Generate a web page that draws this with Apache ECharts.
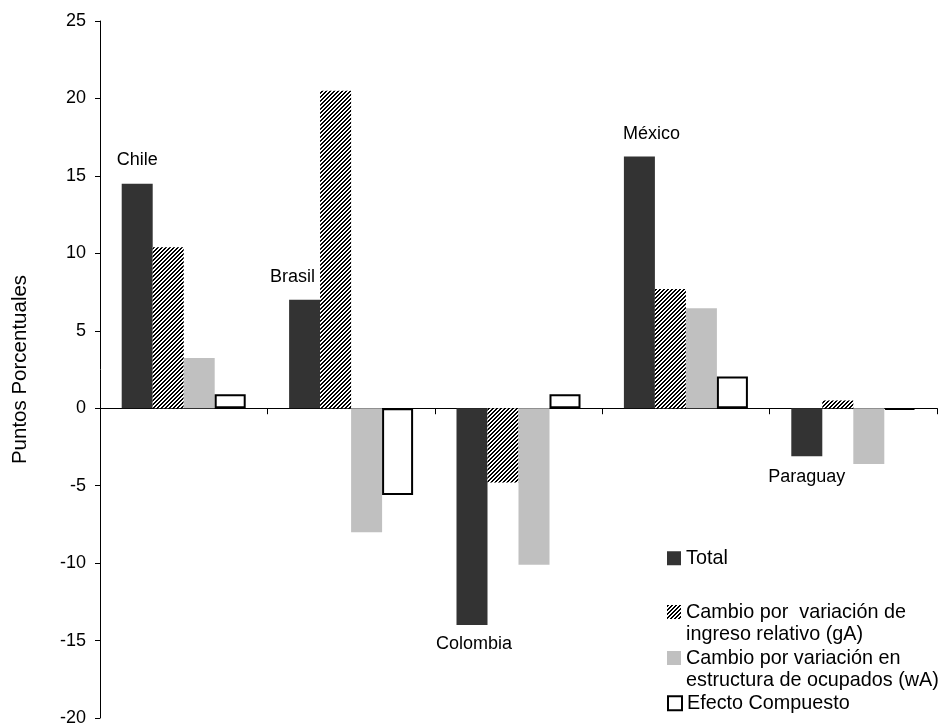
<!DOCTYPE html>
<html><head><meta charset="utf-8">
<script src="https://cdn.jsdelivr.net/npm/echarts@6/dist/echarts.min.js"></script>
<style>html,body{margin:0;padding:0;background:#fff}#c{width:950px;height:727px}</style>
</head><body><div id="c"></div>
<script>
// ---- data ----
const categories = ['Chile', 'Brasil', 'Colombia', 'México', 'Paraguay'];
const seriesNames = [
  'Total',
  'Cambio por  variación de\ningreso relativo (gA)',
  'Cambio por variación en\nestructura de ocupados (wA)',
  'Efecto Compuesto'
];
const totalValues      = [14.5, 7.0, -14.0, 16.25, -3.1];
const gAValues         = [10.4, 20.5, -4.8, 7.7, 0.5];
const wAValues         = [3.25, -8.0, -10.1, 6.45, -3.6];
const compuestoValues  = [0.9, -5.6, 0.9, 2.05, -0.1];
const yMin = -20, yMax = 25, yInterval = 5;

// ---- styles ----
const FONT = 'Liberation Sans, Arial, sans-serif';
function makeHatch() {
  const c = document.createElement('canvas');
  c.width = 4; c.height = 4;
  const g = c.getContext('2d');
  g.fillStyle = '#fff'; g.fillRect(0, 0, 4, 4);
  g.fillStyle = '#000';
  for (let x = 0; x < 4; x++) for (let y = 0; y < 4; y++) {
    if (((x + y) % 4) < 2) g.fillRect(x, y, 1, 1);
  }
  return c;
}
const hatch = { image: makeHatch(), repeat: 'repeat' };

// label placement for the country names (attached to the Total bars)
const labelPlacement = [
  { position: 'top', distance: 15, offset: [0, 0] },
  { position: 'top', distance: 14, offset: [-12, 0] },
  { position: 'bottom', distance: 10, offset: [2, 0] },
  { position: 'top', distance: 13, offset: [12, 0] },
  { position: 'bottom', distance: 12, offset: [0, 0] }
];

const totalData = totalValues.map((v, i) => ({
  value: v,
  label: Object.assign({ show: true, formatter: categories[i] }, labelPlacement[i])
}));

const BW = 31;
const tallIcon = 'path://M0,0L0,0M0,4L14,4L14,18L0,18ZM14,45L14,45';
const legendText = { fontSize: 19.8, lineHeight: 22.5, fontFamily: FONT, color: '#000' };

const chart = echarts.init(document.getElementById('c'), null, { renderer: 'canvas' });
chart.setOption({
  animation: false,
  backgroundColor: '#fff',
  textStyle: { fontFamily: FONT, color: '#000' },
  grid: { left: 100, right: 13, top: 21, bottom: 7, containLabel: false },
  legend: [
    {
      data: [seriesNames[0]], orient: 'vertical', left: 667, top: 547, padding: 0,
      itemWidth: 14, itemHeight: 14, selectedMode: false, icon: 'rect',
      textStyle: legendText
    },
    {
      data: [
        { name: seriesNames[1], icon: tallIcon },
        { name: seriesNames[2], icon: tallIcon }
      ],
      orient: 'vertical', left: 667, top: 601, itemGap: 1, padding: 0,
      itemWidth: 14, itemHeight: 45, selectedMode: false,
      textStyle: legendText
    },
    {
      data: [seriesNames[3]], orient: 'vertical', left: 667, top: 692, padding: 0,
      itemWidth: 14, itemHeight: 14, selectedMode: false, icon: 'rect',
      textStyle: legendText
    }
  ],
  xAxis: {
    type: 'category', data: categories,
    axisLine: { onZero: true, lineStyle: { color: '#000', width: 1 } },
    axisTick: { show: true, interval: 0, length: 6, lineStyle: { color: '#000' } },
    axisLabel: { show: false },
    splitLine: { show: false }
  },
  yAxis: {
    type: 'value', min: yMin, max: yMax, interval: yInterval,
    name: 'Puntos Porcentuales', nameLocation: 'middle', nameGap: 69, nameRotate: 90,
    nameTextStyle: { fontSize: 20.5, fontFamily: FONT, color: '#000' },
    axisLine: { show: true, lineStyle: { color: '#000', width: 1 } },
    axisTick: { show: true, length: 5, lineStyle: { color: '#000' } },
    axisLabel: { fontSize: 18, fontFamily: FONT, color: '#000', margin: 14 },
    splitLine: { show: false }
  },
  series: [
    {
      name: seriesNames[0], type: 'bar', data: totalData, barWidth: BW, barGap: '0%',
      itemStyle: { color: '#333333' },
      label: { fontSize: 18, fontFamily: FONT, color: '#000' }
    },
    {
      name: seriesNames[1], type: 'bar', data: gAValues, barWidth: BW, barGap: '0%',
      itemStyle: { color: hatch }
    },
    {
      name: seriesNames[2], type: 'bar', data: wAValues, barWidth: BW, barGap: '0%',
      itemStyle: { color: '#c0c0c0' }
    },
    {
      name: seriesNames[3], type: 'bar', data: compuestoValues, barWidth: BW, barGap: '0%',
      itemStyle: { color: '#ffffff', borderColor: '#000', borderWidth: 2 }
    }
  ]
});
</script></body></html>
